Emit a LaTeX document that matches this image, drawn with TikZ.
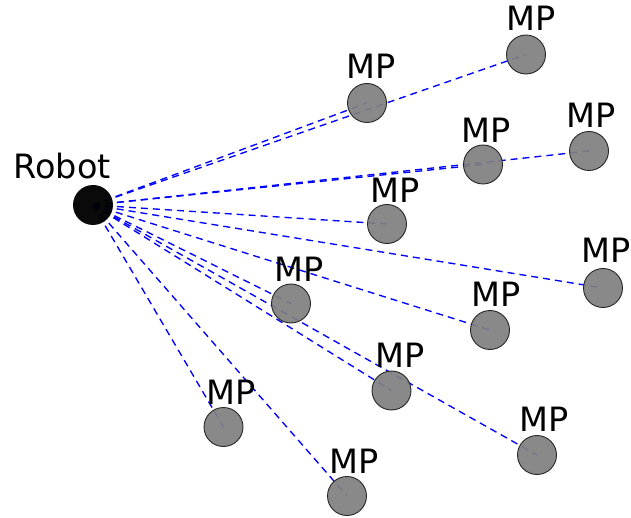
\documentclass[tikz,border=0pt]{standalone}
\usepackage{fontspec}
\setmainfont{DejaVu Sans}
\usetikzlibrary{backgrounds}
\begin{document}
\begin{tikzpicture}[x=1pt,y=-1pt,
  mpnode/.style={circle,minimum size=39pt,inner sep=0pt,draw=black!85,line width=0.9pt,fill=gray,fill opacity=0.93},
  robotnode/.style={circle,minimum size=40pt,inner sep=0pt,fill=black,fill opacity=0.96},
  lbl/.style={anchor=base,inner sep=0pt,font=\fontsize{33.5}{33.5}\selectfont},
  link/.style={blue,line width=1.35pt,dash pattern=on 7pt off 5pt}]
\useasboundingbox (0,0) rectangle (631,518);
% robot and measurement points
\node[robotnode] (robot) at (93,205) {};
\node[lbl] (robotlbl) at (62,179) {Robot};
\foreach \n/\cx/\cy/\lx/\ly in {
  1/526/54.5/531/31,
  2/367/103/371/79,
  3/589/151/591/128,
  4/483/164.5/486/143,
  5/387/224/395/203,
  6/603/288/606/263,
  7/291/303.5/299/282,
  8/490/330/496/306,
  9/391.5/390.5/400/367,
  10/223.5/427/231/404,
  11/537/455/544/431,
  12/347/496/354/473}{
  \node[mpnode] (mp\n) at (\cx,\cy) {};
  \node[lbl] (mplbl\n) at (\lx,\ly) {MP};
}
% links from the robot to every point
\begin{pgfonlayer}{background}
\foreach \n in {1,...,12}{
  \draw[link] (robot.center) -- (mp\n.center);
}
\end{pgfonlayer}
\end{tikzpicture}
\end{document}
